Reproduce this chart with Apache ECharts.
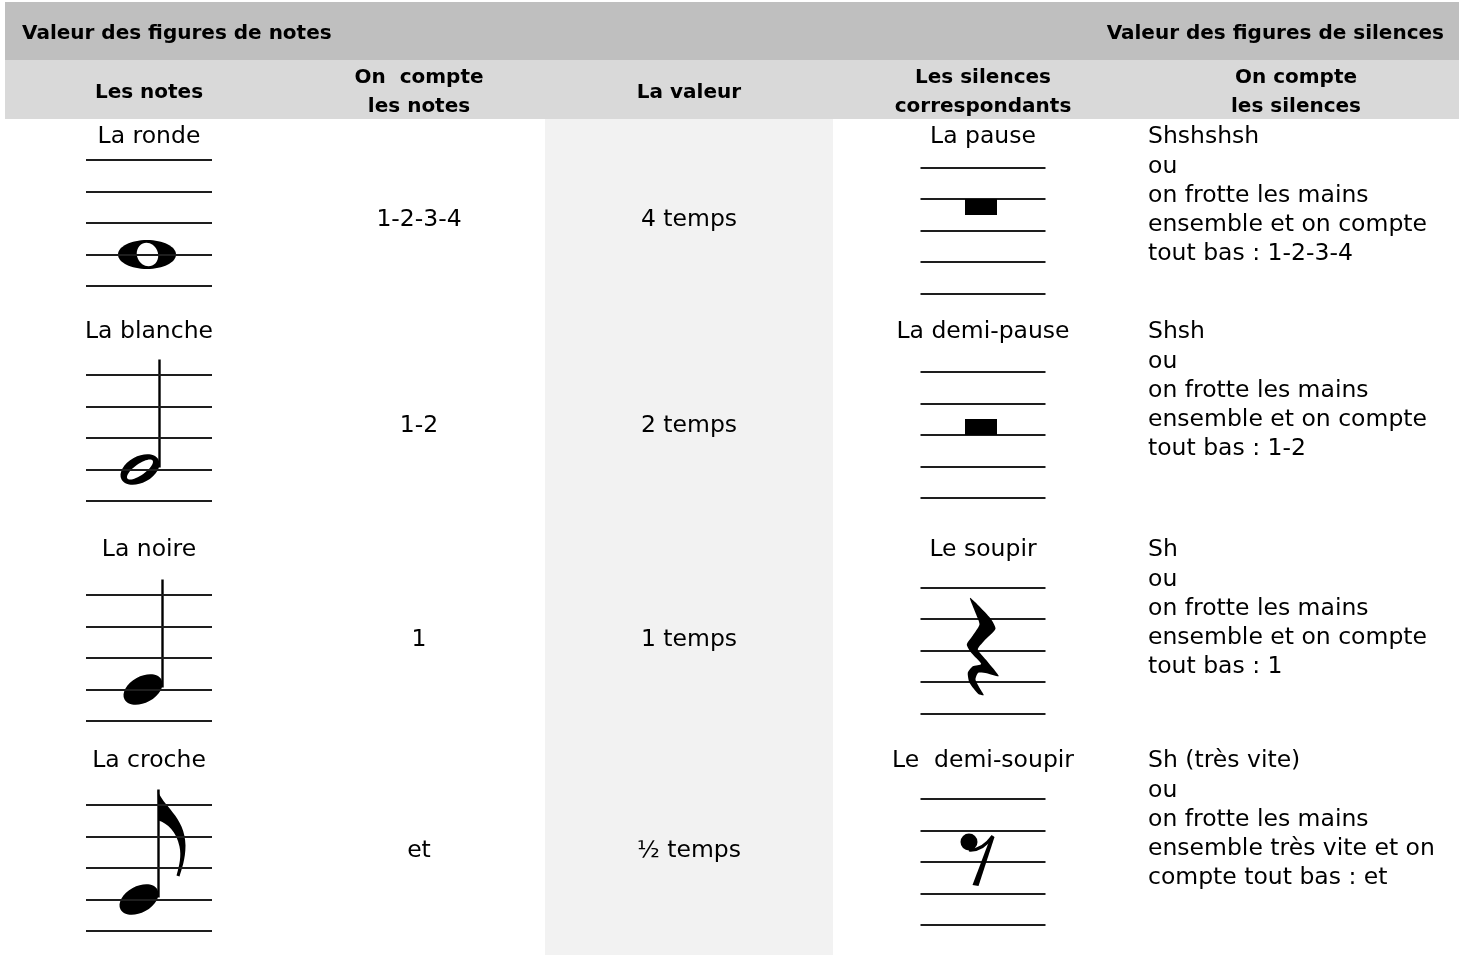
<!DOCTYPE html>
<html><head><meta charset="utf-8">
<script src="https://cdn.jsdelivr.net/npm/echarts@6/dist/echarts.min.js"></script>
<style>html,body{margin:0;padding:0;background:#fff}#main{width:1466px;height:955px}</style>
</head><body><div id="main"></div>
<script>
// ---- data ----
const sectionTitles = ['Valeur des figures de notes', 'Valeur des figures de silences'];
const columnKeys = ['notes', 'compteNotes', 'valeur', 'silences', 'compteSilences'];
const columnHeaders = ['Les notes', 'On  compte\nles notes', 'La valeur', 'Les silences\ncorrespondants', 'On compte\nles silences'];
const noteNames = ['La ronde', 'La blanche', 'La noire', 'La croche'];
const noteCounts = ['1-2-3-4', '1-2', '1', 'et'];
const durations = ['4 temps', '2 temps', '1 temps', '½ temps'];
const restNames = ['La pause', 'La demi-pause', 'Le soupir', 'Le  demi-soupir'];
const restCounts = [
  'Shshshsh\nou\non frotte les mains\nensemble et on compte\ntout bas : 1-2-3-4',
  'Shsh\nou\non frotte les mains\nensemble et on compte\ntout bas : 1-2',
  'Sh\nou\non frotte les mains\nensemble et on compte\ntout bas : 1',
  'Sh (très vite)\nou\non frotte les mains\nensemble très vite et on\ncompte tout bas : et'
];
const noteGlyphs = ['ronde', 'blanche', 'noire', 'croche'];
const restGlyphs = ['pause', 'demiPause', 'soupir', 'demiSoupir'];
const rowKeys = ['titre', 'entete', 'ronde', 'rondeFig', 'blanche', 'blancheFig', 'noire', 'noireFig', 'croche', 'crocheFig'];

// ---- layout / style (not data) ----
const FONT = 'DejaVu Sans';
const colSizes = [288, 252, 288, 300, 326];
const rowSizes = [58, 59, 32, 165, 28, 188, 32, 179, 32, 180];
const S = 31.5;            // staff line spacing
const INK = '#000';
const LINE = '#1e1e1e';

function staff(cx, mid, halfW) {
  const els = [];
  for (let k = -2; k <= 2; k++) {
    const y = Math.round(mid + k * S);
    els.push({type: 'line', shape: {x1: cx - halfW, y1: y, x2: cx + halfW, y2: y},
      style: {stroke: LINE, lineWidth: 2}});
  }
  return els;
}
function ell(x, y, rx, ry, rot, fill) {
  return {type: 'ellipse', x: x, y: y, rotation: rot, shape: {cx: 0, cy: 0, rx: rx, ry: ry}, style: {fill: fill}};
}
const noteCfg = {
  ronde:   {dy: -10.5, hx: -2},
  blanche: {dy: 0, hx: -9},
  noire:   {dy: 4.5, hx: -6},
  croche:  {dy: 3, hx: -10}
};
function drawNote(kind, c) {
  const cfg = noteCfg[kind];
  const cx = c[0], mid = c[1] + cfg.dy;
  const hx = cx + cfg.hx, hy = mid + S;
  const heads = [];
  if (kind === 'ronde') {
    heads.push(ell(hx, hy, 29, 14.5, 0, INK));
    heads.push(ell(hx + 0.5, hy, 10.5, 12, 0.4, '#fff'));
  } else {
    const sx = hx + 19.5;
    const sy = mid - 78.5;
    heads.push({type: 'line', shape: {x1: sx, y1: sy, x2: sx, y2: hy - 2}, style: {stroke: INK, lineWidth: 2.4}});
    heads.push(ell(hx, hy, 21, 13.2, 0.5, INK));
    if (kind === 'blanche') heads.push(ell(hx, hy, 15.5, 5.5, 0.62, '#fff'));
    if (kind === 'croche') {
      const p = (dx, dy) => (sx + dx) + ' ' + (sy + dy);
      const d = 'M' + p(-1, 0) + ' C' + p(3, 16) + ' ' + p(27, 27) + ' ' + p(27, 56) +
        ' C' + p(27, 70) + ' ' + p(23, 80) + ' ' + p(21, 87) + ' L' + p(18, 86) +
        ' C' + p(21, 76) + ' ' + p(23, 66) + ' ' + p(21, 57) +
        ' C' + p(18, 42) + ' ' + p(9, 34) + ' ' + p(0, 31) + ' Z';
      heads.push({type: 'path', shape: {pathData: d}, style: {fill: INK}});
    }
  }
  return {type: 'group', children: heads.concat(staff(cx, mid, 63))};
}
const soupirPts = [[-13,-52.7],[7,-32.7],[12.5,-21.7],[0.8,-9.3],[-5.2,-1],[4.2,10.7],[15.8,25.7],[3.7,22.8],
  [-4.7,22.2],[-7.5,29],[-2.5,39],[0.8,44.7],[-4.7,43.5],[-13.5,32.3],[-15.2,22.3],[-10.2,15.8],[-1.8,13.5],
  [-11.8,2.3],[-16.2,-6],[-10.2,-15],[-3.5,-26],[-6.8,-36]];
function drawRest(kind, c) {
  const cx = c[0], mid = c[1] - 3;
  const els = staff(cx, mid, 62.5);
  if (kind === 'pause') {
    els.push({type: 'rect', shape: {x: cx - 18, y: Math.round(mid - S), width: 32, height: 16}, style: {fill: INK}});
  } else if (kind === 'demiPause') {
    els.push({type: 'rect', shape: {x: cx - 18, y: Math.round(mid) - 16, width: 32, height: 16}, style: {fill: INK}});
  } else if (kind === 'soupir') {
    els.push({type: 'polygon', shape: {points: soupirPts.map(q => [cx + q[0], mid + q[1]]), smooth: 0.2}, style: {fill: INK}});
  } else {
    els.push({type: 'circle', shape: {cx: cx - 14, cy: mid - 20, r: 8.5}, style: {fill: INK}});
    els.push({type: 'path', shape: {pathData: 'M' + (cx - 14) + ' ' + (mid - 12) + ' Q' + (cx - 1) + ' ' + (mid - 11) + ' ' + (cx + 10) + ' ' + (mid - 26)},
      style: {fill: null, stroke: INK, lineWidth: 3.2}});
    els.push({type: 'polygon', shape: {points: [[cx + 8, mid - 26], [cx + 11.5, mid - 25], [cx - 4.5, mid + 24], [cx - 10.5, mid + 23]]}, style: {fill: INK}});
  }
  return {type: 'group', children: els};
}

// ---- matrix body cells (backgrounds / merges) ----
const bodyCells = [];
columnKeys.forEach((k, i) => bodyCells.push({coord: [i, 0], itemStyle: {color: '#bfbfbf'}}));
columnKeys.forEach((k, i) => bodyCells.push({coord: [i, 1], itemStyle: {color: '#d9d9d9'}}));
noteNames.forEach((n, i) => {
  const a = 2 + 2 * i, b = a + 1;
  bodyCells.push({coord: [[1, 1], [a, b]], mergeCells: true});
  bodyCells.push({coord: [[2, 2], [a, b]], mergeCells: true, itemStyle: {color: '#f2f2f2'}});
});

// text series helper: items = [[col, row, text]]
function textSeries(items, opts) {
  return {
    type: 'custom', coordinateSystem: 'matrix', silent: true, z: 5,
    data: items.map(it => [it[0], it[1]]),
    renderItem: (params, api) => {
      const c = api.coord([api.value(0), api.value(1)]);
      return {type: 'text', x: c[0] + (opts.dx || 0), y: c[1] + (opts.dy || 0),
        style: {text: items[params.dataIndex][2], fontFamily: FONT, fontSize: opts.size,
                fontWeight: opts.bold ? 'bold' : 'normal', lineHeight: opts.lh || opts.size * 1.25,
                fill: '#000', align: opts.align || 'center', verticalAlign: opts.va || 'middle'}};
    }
  };
}

const option = {
  animation: false,
  backgroundColor: '#fff',
  matrix: {
    left: 5, top: 2, right: 7, bottom: 0,
    x: {show: false, data: columnKeys.map((k, i) => ({value: k, size: colSizes[i]})),
        dividerLineStyle: {width: 0, color: 'transparent'}},
    y: {show: false, data: rowKeys.map((k, i) => ({value: k, size: rowSizes[i]})),
        dividerLineStyle: {width: 0, color: 'transparent'}},
    corner: {show: false},
    backgroundStyle: {color: 'transparent', borderWidth: 0, borderColor: 'transparent'},
    body: {
      data: bodyCells,
      itemStyle: {color: 'transparent', borderWidth: 0, borderColor: 'transparent'}
    }
  },
  series: [
    {type: 'custom', coordinateSystem: 'matrix', silent: true,
     data: noteGlyphs.map((g, i) => [0, 3 + 2 * i]),
     renderItem: (params, api) => drawNote(noteGlyphs[params.dataIndex], api.coord([api.value(0), api.value(1)]))},
    {type: 'custom', coordinateSystem: 'matrix', silent: true,
     data: restGlyphs.map((g, i) => [3, 3 + 2 * i]),
     renderItem: (params, api) => drawRest(restGlyphs[params.dataIndex], api.coord([api.value(0), api.value(1)]))},
    // section titles
    textSeries([[0, 0, sectionTitles[0]]], {size: 20, bold: true, align: 'left', dx: -127, dy: 2.5}),
    textSeries([[4, 0, sectionTitles[1]]], {size: 20, bold: true, align: 'right', dx: 148, dy: 2.5}),
    // column headers
    textSeries(columnHeaders.map((h, i) => [i, 1, h]), {size: 20, bold: true, lh: 29, dy: 3}),
    // figure names
    textSeries(noteNames.map((n, i) => [0, 2 + 2 * i, n]), {size: 23.5, dy: 2}),
    textSeries(restNames.map((n, i) => [3, 2 + 2 * i, n]), {size: 23.5, dy: 2}),
    // counts & values (merged cells)
    textSeries(noteCounts.map((n, i) => [1, 2 + 2 * i, n]), {size: 23.5, dy: 2}),
    textSeries(durations.map((n, i) => [2, 2 + 2 * i, n]), {size: 23.5, dy: 2}),
    // how to count the rests
    textSeries(restCounts.map((n, i) => [4, 2 + 2 * i, n]), {size: 23.5, lh: 29.3, align: 'left', va: 'top', dx: -148, dy: -12.5})
  ]
};
const chart = echarts.init(document.getElementById('main'), null, {renderer: 'canvas'});
chart.setOption(option);
</script>
</body></html>
